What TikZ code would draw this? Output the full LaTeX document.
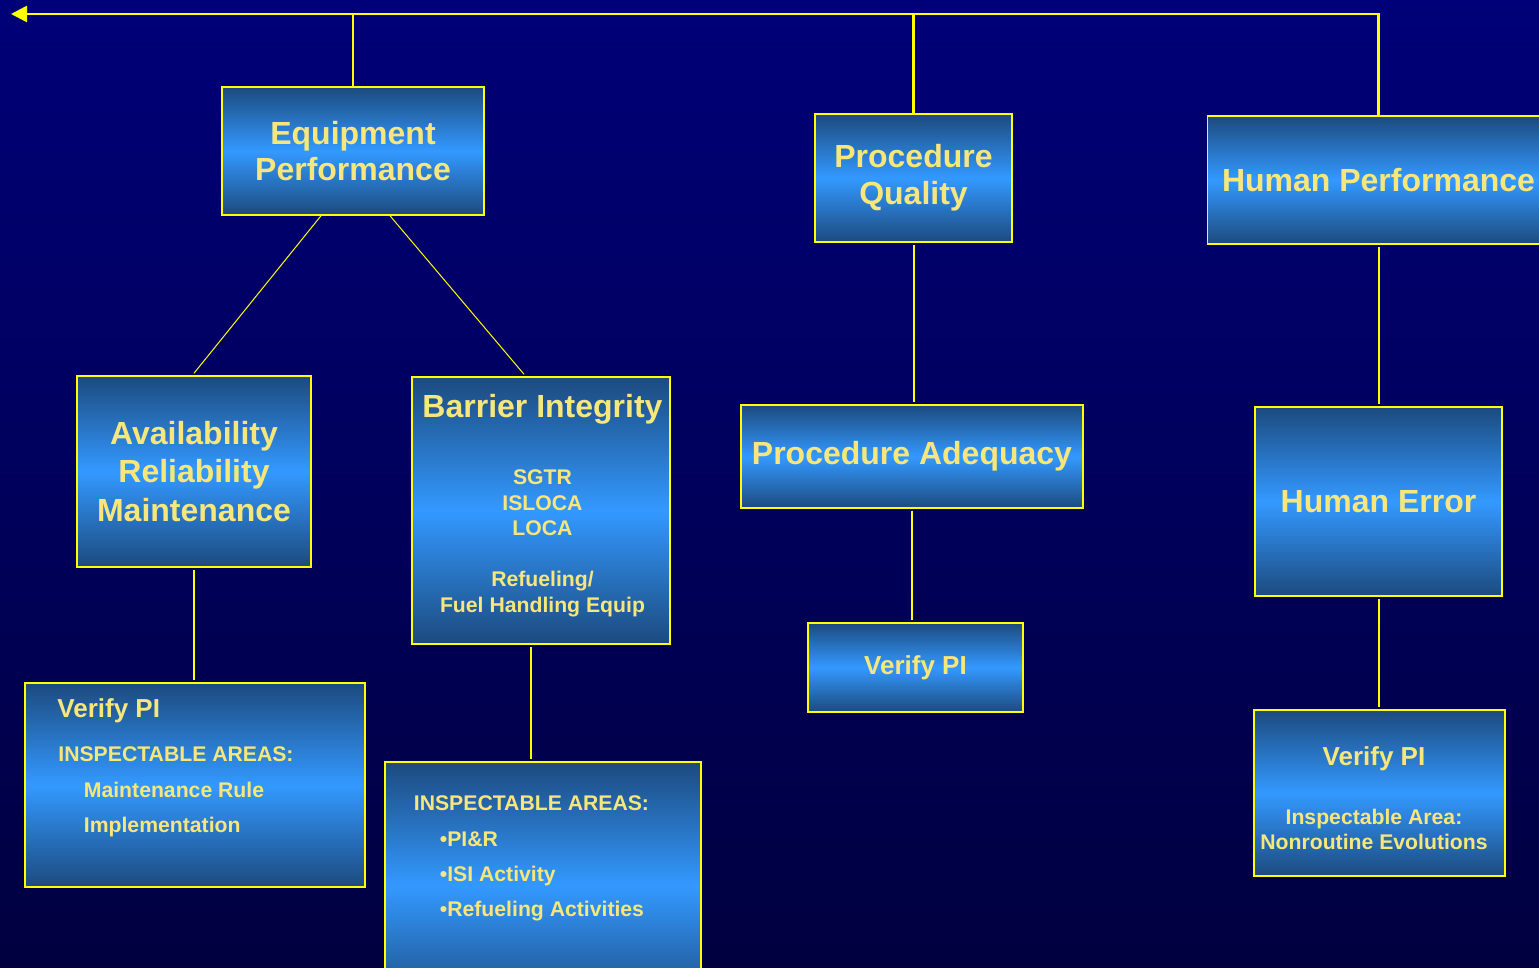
\documentclass[tikz,border=0pt]{standalone}
\usepackage{fontspec}
\setmainfont{Liberation Sans}
\usetikzlibrary{arrows.meta}

\definecolor{bgtop}{HTML}{000078}
\definecolor{bgbot}{HTML}{000040}
\definecolor{boxdark}{HTML}{1C4A7E}
\definecolor{boxlight}{HTML}{3399FF}
\definecolor{lineyellow}{HTML}{FFFF00}
\definecolor{textyellow}{HTML}{F6E67C}

\newcommand{\boxtitlefont}{\fontsize{16}{18.3}\selectfont\bfseries}
\newcommand{\verifyfont}{\fontsize{13}{15.6}\selectfont\bfseries}
\newcommand{\areafont}{\fontsize{10.6}{12.7}\selectfont\bfseries}

\tikzset{
	box/.style={draw=lineyellow, line width=0.75pt, top color=boxdark, bottom color=boxdark, middle color=boxlight, text=textyellow, align=center, inner sep=0pt, font=\boxtitlefont},
	txt/.style={text=textyellow, inner sep=0pt, anchor=base},
	mainline/.style={draw=lineyellow, line width=1.25pt},
	link/.style={draw=lineyellow, line width=1pt, shorten <=1pt, shorten >=1pt},
	thinline/.style={draw=lineyellow, line width=0.5pt}
}

\begin{document}
\begin{tikzpicture}[x=0.5pt, y=-0.5pt]
	\useasboundingbox (0,0) rectangle (1539,968);
	\shade[top color=bgtop, bottom color=bgbot] (0,0) rectangle (1539,968);

	% boxes
	\node[box, minimum width=131pt, minimum height=64pt] (eqp) at (353,151) {Equipment\\Performance};
	\node[box, minimum width=98.5pt, minimum height=64pt] (pq) at (913.5,178) {Procedure\\Quality};
	\node[box, minimum width=171pt, minimum height=64pt] (hp) at (1378.5,180) {Human Performance};
	\node[box, minimum width=117pt, minimum height=95.5pt] (arm) at (194,471.5) {Availability\\[0.9pt]Reliability\\[0.9pt]Maintenance};
	\node[box, minimum width=129pt, minimum height=133.5pt] (bi) at (541,510.5) {};
	\node[box, minimum width=171pt, minimum height=51.5pt] (pa) at (912,456.5) {Procedure Adequacy};
	\node[box, minimum width=123.5pt, minimum height=94.5pt] (he) at (1378.5,501.5) {Human Error};
	\node[box, minimum width=170pt, minimum height=102pt] (vl) at (195,785) {};
	\node[box, minimum width=158pt, minimum height=124pt] (ia) at (543,886) {};
	\node[box, font=\verifyfont, minimum width=107.5pt, minimum height=44.5pt] (vp) at (915.5,667.5) {Verify PI};
	\node[box, minimum width=125.5pt, minimum height=83pt] (vh) at (1379.5,793) {};

	% connectors
	\coordinate (tip) at (11,14);
	\draw[mainline, -{Triangle[length=8pt, width=8pt]}] (hp.north) |- (tip);
	\draw[mainline] (eqp.north) -- (eqp.north |- tip);
	\draw[mainline] (pq.north) -- (pq.north |- tip);
	\draw[thinline] ([xshift=-16pt]eqp.south) -- ([yshift=1pt]arm.north);
	\draw[thinline] ([xshift=18.5pt]eqp.south) -- ([xshift=-8.5pt, yshift=1pt]bi.north);
	\draw[link] (pq.south) -- (pq.south |- pa.north);
	\draw[link] (hp.south) -- (hp.south |- he.north);
	\draw[link] (arm.south) -- (arm.south |- vl.north);
	\draw[link] ([xshift=-5pt]bi.south) -- ([xshift=-5pt]bi.south |- ia.north);
	\draw[link] (pa.south) -- (pa.south |- vp.north);
	\draw[link] (he.south) -- (he.south |- vh.north);

	% barrier integrity
	\node[txt, font=\boxtitlefont] (bi-title) at (542.5,418) {Barrier Integrity};
	\node[txt, font=\areafont] (bi-sgtr) at (542.5,485) {SGTR};
	\node[txt, font=\areafont] (bi-isloca) at (542.5,510) {ISLOCA};
	\node[txt, font=\areafont] (bi-loca) at (542.5,535.5) {LOCA};
	\node[txt, font=\areafont] (bi-refuel) at (542.5,587) {Refueling/};
	\node[txt, font=\areafont] (bi-fuel) at (542.5,612) {Fuel Handling Equip};

	% verify PI, left
	\node[txt, anchor=base west, font=\verifyfont] (vl-title) at (57,718) {Verify PI};
	\node[txt, anchor=base west, font=\areafont] (vl-areas) at (58,761) {INSPECTABLE AREAS:};
	\node[txt, anchor=base west, font=\areafont] (vl-rule) at (83.5,797) {Maintenance Rule};
	\node[txt, anchor=base west, font=\areafont] (vl-impl) at (83.5,832) {Implementation};

	% inspectable areas, bottom
	\node[txt, anchor=base west, font=\areafont] (ia-areas) at (413.5,810) {INSPECTABLE AREAS:};
	\node[txt, anchor=base west, font=\areafont] (ia-pir) at (439.5,846.5) {•PI\&R};
	\node[txt, anchor=base west, font=\areafont] (ia-isi) at (439.5,881.5) {•ISI Activity};
	\node[txt, anchor=base west, font=\areafont] (ia-refuel) at (439.5,916.5) {•Refueling Activities};

	% verify PI, human
	\node[txt, font=\verifyfont] (vh-title) at (1374,765) {Verify PI};
	\node[txt, font=\areafont] (vh-area) at (1374,824) {Inspectable Area:};
	\node[txt, font=\areafont] (vh-evol) at (1374,849) {Nonroutine Evolutions};
\end{tikzpicture}
\end{document}
